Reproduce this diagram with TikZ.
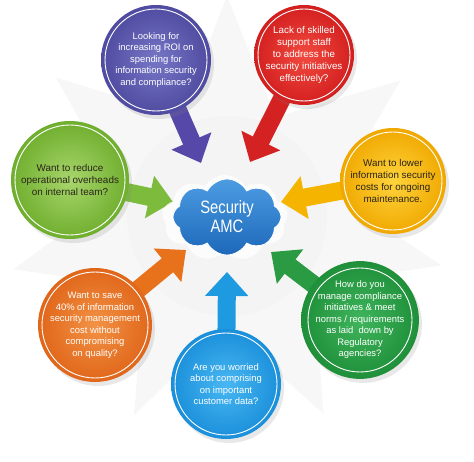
\documentclass[tikz,border=0pt]{standalone}
\usepackage{fontspec}
\setmainfont{Liberation Sans}
\newfontfamily\cloudfont[FakeStretch=0.82]{Liberation Sans}
\usetikzlibrary{shapes.symbols,arrows.meta,shadows,calc}
\definecolor{pOut}{HTML}{4F4BA0}\definecolor{pIn}{HTML}{7676C6}\definecolor{pArr}{HTML}{5548A8}
\definecolor{rOut}{HTML}{D21F1F}\definecolor{rIn}{HTML}{F24A3F}\definecolor{rArr}{HTML}{D42222}
\definecolor{gOut}{HTML}{6FAE2E}\definecolor{gIn}{HTML}{A8D66C}\definecolor{gArr}{HTML}{7DBB3C}
\definecolor{yOut}{HTML}{F0A800}\definecolor{yIn}{HTML}{FFD43C}\definecolor{yArr}{HTML}{F5B400}
\definecolor{oOut}{HTML}{E0661A}\definecolor{oIn}{HTML}{F29245}\definecolor{oArr}{HTML}{E8721C}
\definecolor{dOut}{HTML}{1F8F3A}\definecolor{dIn}{HTML}{3FB55C}\definecolor{dArr}{HTML}{2A9B42}
\definecolor{bOut}{HTML}{1A8FDA}\definecolor{bIn}{HTML}{48B7F2}\definecolor{bArr}{HTML}{1E9AE0}
\definecolor{cloudT}{HTML}{4C9CE2}\definecolor{cloudB}{HTML}{1D68BA}
\definecolor{darktext}{HTML}{2A2418}
\tikzset{
  bubble/.style={circle, inner sep=0pt, align=center, text=white,
    font=\fontsize{9.4}{11.5}\selectfont,
    drop shadow={shadow xshift=3pt, shadow yshift=-4pt, opacity=0.18}},
  ring/.style={draw=white, line width=0.9pt},
  barrow/.style={line width=18pt, -{Triangle[length=24pt,width=42pt]}},
}
\begin{document}
\begin{tikzpicture}[x=1pt,y=-1pt]
\useasboundingbox (0,0) rectangle (474,462);
\clip (0,0) rectangle (474,462);
\fill[white] (0,0) rectangle (474,462);
\coordinate (C) at (227,216);
% background star
\fill[gray!6] ($(C)+(13:220)$) -- ($(C)+(38:110)$) -- ($(C)+(64:220)$) -- ($(C)+(91:110)$)
  -- ($(C)+(115:220)$) -- ($(C)+(139:110)$) -- ($(C)+(166:220)$) -- ($(C)+(193:110)$)
  -- ($(C)+(219:220)$) -- ($(C)+(245:110)$) -- ($(C)+(270:220)$) -- ($(C)+(296:110)$)
  -- ($(C)+(322:220)$) -- ($(C)+(348:110)$) -- cycle;
\fill[gray!9] (C) circle (100);
% centres and tips
\coordinate (cP) at (156,60);  \coordinate (tP) at (201,163);
\coordinate (cR) at (304,55);  \coordinate (tR) at (250,162);
\coordinate (cG) at (70,180);  \coordinate (tG) at (173,202);
\coordinate (cY) at (393,181); \coordinate (tY) at (281,202);
\coordinate (cO) at (95,325);  \coordinate (tO) at (186,250);
\coordinate (cD) at (360,320); \coordinate (tD) at (271,252);
\coordinate (cB) at (226,384); \coordinate (tB) at (227,272);
% arrows
\draw[barrow, pArr] (cP) -- (tP);
\draw[barrow, rArr] (cR) -- (tR);
\draw[barrow, gArr] (cG) -- (tG);
\draw[barrow, yArr] (cY) -- (tY);
\draw[barrow, oArr] (cO) -- (tO);
\draw[barrow, dArr] (cD) -- (tD);
\draw[barrow, bArr] (cB) -- (tB);
% bubbles
\node[bubble, minimum size=110pt, inner color=pIn, outer color=pOut] (P) at (cP)
  {Looking for\\increasing ROI on\\spending for\\information security\\and compliance?};
\draw[ring] (cP) circle (51);
\node[bubble, minimum size=100pt, inner color=rIn, outer color=rOut, font=\fontsize{9.8}{11.8}\selectfont] (R) at (cR)
  {Lack of skilled\\support staff\\to address the\\security initiatives\\effectively?};
\draw[ring] (cR) circle (46);
\node[bubble, minimum size=118pt, inner color=gIn, outer color=gOut, text=darktext, font=\fontsize{9.9}{12}\selectfont] (G) at (cG)
  {Want to reduce\\operational overheads\\on internal team?};
\draw[ring] (cG) circle (55);
\node[bubble, minimum size=106pt, inner color=yIn, outer color=yOut, text=darktext, font=\fontsize{9.8}{12}\selectfont] (Y) at (cY)
  {Want to lower\\information security\\costs for ongoing\\maintenance.};
\draw[ring] (cY) circle (49);
\node[bubble, minimum size=114pt, inner color=oIn, outer color=oOut] (O) at (cO)
  {Want to save\\40\% of information\\security management\\cost without\\compromising\\on quality?};
\draw[ring] (cO) circle (53);
\node[bubble, minimum size=112pt, inner color=dIn, outer color=dOut] (D) at (cD)
  {How do you\\manage compliance\\initiatives \& meet\\norms / requirements\\as laid\ \ down by\\Regulatory\\agencies?};
\draw[ring] (cD) circle (52);
\node[bubble, minimum size=110pt, inner color=bIn, outer color=bOut] (B) at (cB)
  {Are you worried\\about comprising\\on important\\customer data?};
\draw[ring] (cB) circle (51);
% cloud
\node[cloud, cloud puffs=9, cloud puff arc=120, aspect=1.5, minimum width=126pt, minimum height=86pt, fill=white, opacity=0.75] (glow) at (225,218) {};
\node[cloud, cloud puffs=8, cloud puff arc=125, aspect=1.45, minimum width=108pt, minimum height=76pt,
  top color=cloudT, bottom color=cloudB, draw=white, line width=0.8pt] (cloud) at (227,217) {};
\node[text=white, align=center, font=\cloudfont\fontsize{18}{19}\selectfont] (label) at (cloud) {Security\\AMC};
\end{tikzpicture}
\end{document}
